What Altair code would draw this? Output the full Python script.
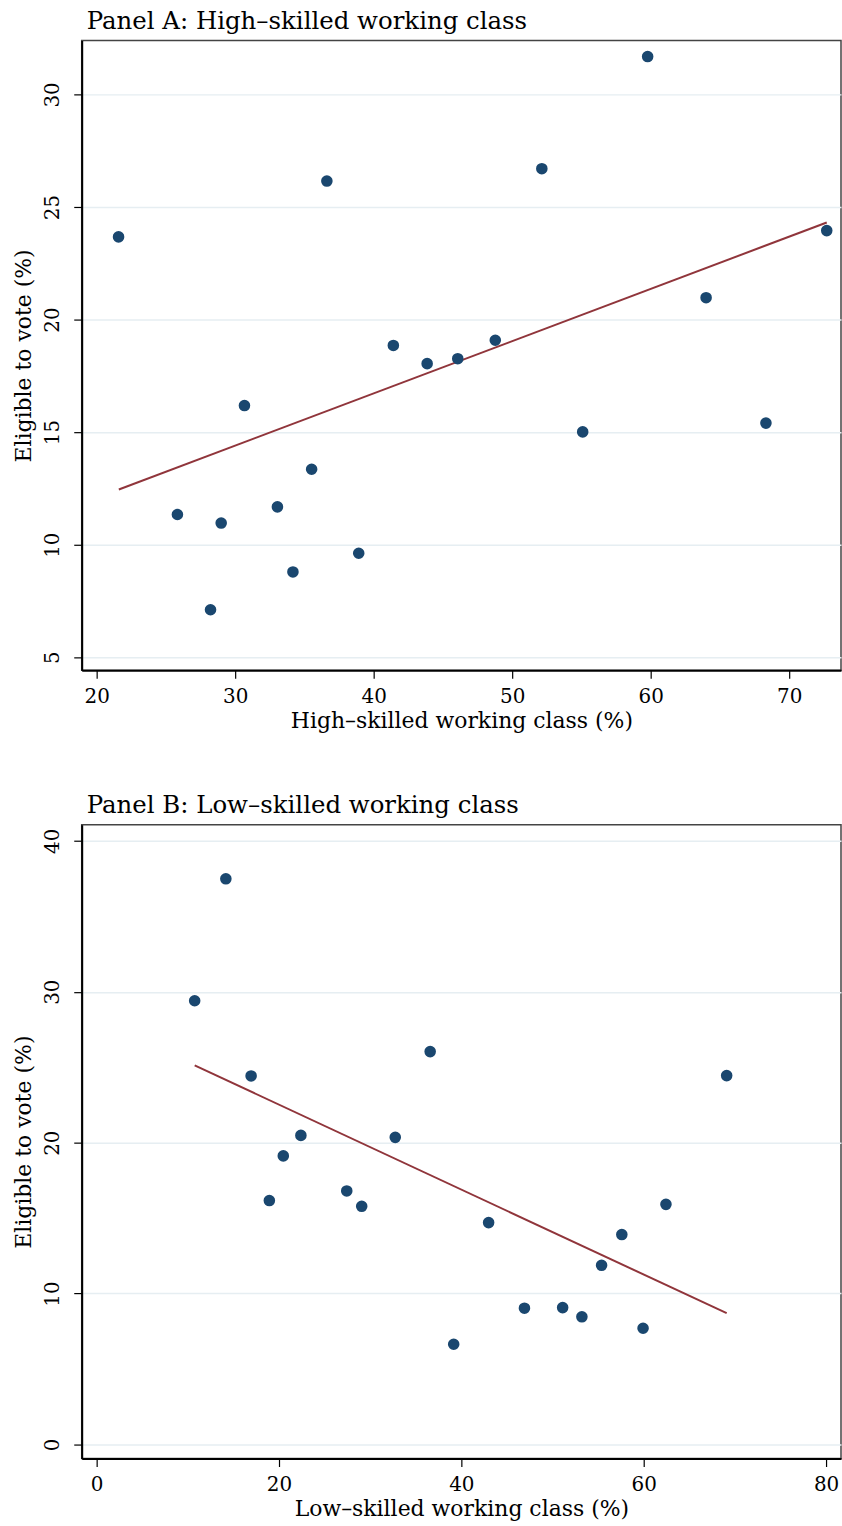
import altair as alt
import pandas as pd

# ---------------- Panel A data ----------------
a_x = [21.58, 25.83, 28.22, 28.99, 30.67, 33.05, 34.17, 35.52, 36.62, 38.92,
       41.42, 43.86, 46.07, 48.78, 52.14, 55.09, 59.78, 64.00, 68.32, 72.71]
a_y = [23.67, 11.34, 7.11, 10.96, 16.18, 11.68, 8.79, 13.35, 26.15, 9.62,
       18.85, 18.04, 18.26, 19.08, 26.70, 15.01, 31.68, 20.97, 15.40, 23.95]
a_fit_x = [21.60, 72.71]
a_fit_y = [12.45, 24.31]
a_xticks = [20, 30, 40, 50, 60, 70]
a_yticks = [5, 10, 15, 20, 25, 30]

# ---------------- Panel B data ----------------
b_x = [10.75, 14.17, 16.94, 18.94, 20.47, 22.40, 27.43, 29.07, 32.75, 36.58,
       39.16, 42.99, 46.92, 51.11, 53.22, 55.38, 57.60, 59.93, 62.44, 69.10]
b_y = [29.40, 37.48, 24.42, 16.16, 19.12, 20.48, 16.80, 15.78, 20.35, 26.03,
       6.64, 14.70, 9.03, 9.07, 8.46, 11.87, 13.91, 7.70, 15.91, 24.44]
b_fit_x = [10.75, 69.10]
b_fit_y = [25.12, 8.70]
b_xticks = [0, 20, 40, 60, 80]
b_yticks = [0, 10, 20, 30, 40]

FONT = "DejaVu Serif"
PT_COLOR = "#1a476f"
LINE_COLOR = "#90353b"
GRID_COLOR = "#e6eef2"


def panel(title, xs, ys, fx, fy, xdom, ydom, xticks, yticks, xtitle, h):
    pts = pd.DataFrame({"x": xs, "y": ys})
    fit = pd.DataFrame({"x": fx, "y": fy})
    xscale = alt.Scale(domain=xdom, nice=False, zero=False)
    yscale = alt.Scale(domain=ydom, nice=False, zero=False)
    xaxis = alt.Axis(values=xticks, title=xtitle, grid=False, format="d",
                     tickSize=8, tickColor="black", tickWidth=1.2,
                     domainColor="black", domainWidth=2,
                     labelFont=FONT, labelFontSize=20, labelColor="black",
                     labelPadding=8, titleFont=FONT, titleFontSize=22,
                     titleFontWeight="normal", titleColor="black", titlePadding=4)
    yaxis = alt.Axis(values=yticks, title="Eligible to vote (%)", grid=True,
                     gridColor=GRID_COLOR, gridWidth=1.5, format="d",
                     tickSize=8, tickColor="black", tickWidth=1.2,
                     domainColor="black", domainWidth=2,
                     labelAngle=270, labelAlign="center", labelBaseline="bottom",
                     labelFont=FONT, labelFontSize=20, labelColor="black",
                     labelPadding=11, titleFont=FONT, titleFontSize=22,
                     titleFontWeight="normal", titleColor="black", titlePadding=7)
    points = alt.Chart(pts).mark_circle(size=135, color=PT_COLOR, opacity=1).encode(
        x=alt.X("x:Q", scale=xscale, axis=xaxis),
        y=alt.Y("y:Q", scale=yscale, axis=yaxis),
    )
    line = alt.Chart(fit).mark_line(color=LINE_COLOR, strokeWidth=2).encode(
        x=alt.X("x:Q", scale=xscale),
        y=alt.Y("y:Q", scale=yscale),
    )
    return alt.layer(line, points).properties(
        width=762, height=h,
        title=alt.TitleParams(title, anchor="start", frame="group", dx=5,
                              font=FONT, fontSize=24.5, fontWeight="normal",
                              color="black", offset=6),
    )


pa = panel("Panel A: High\u2013skilled working class", a_x, a_y, a_fit_x, a_fit_y,
           [18.92, 73.74], [4.42, 32.39], a_xticks, a_yticks,
           "High\u2013skilled working class (%)", 632)
pb = panel("Panel B: Low\u2013skilled working class", b_x, b_y, b_fit_x, b_fit_y,
           [-1.64, 81.64], [-0.93, 41.06], b_xticks, b_yticks,
           "Low\u2013skilled working class (%)", 636)

chart = alt.vconcat(pa, pb, spacing=60).properties(
    padding={"left": 12, "top": 5, "right": 0, "bottom": 0},
    background="white",
).configure_view(stroke="#444444", strokeWidth=1.5)

chart.save("out.html", embed_options={"renderer": "svg", "actions": False})
